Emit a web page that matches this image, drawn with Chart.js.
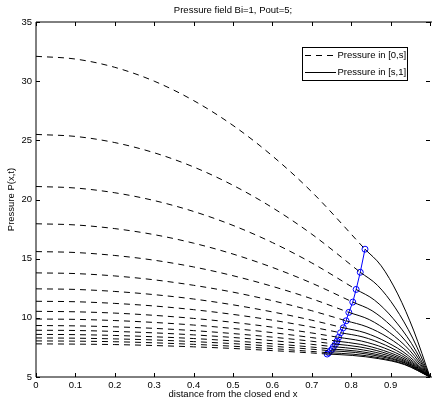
<!DOCTYPE html>
<html>
<head>
<meta charset="utf-8">
<title>Pressure field</title>
<script src="https://cdn.jsdelivr.net/npm/chart.js"></script>
<style>
  html, body { margin: 0; padding: 0; background: #fff; }
  canvas { display: block; }
</style>
</head>
<body>
<canvas id="c" width="435" height="410"></canvas>
<script>
// Axis ticks
const xTicks = [0, 0.1, 0.2, 0.3, 0.4, 0.5, 0.6, 0.7, 0.8, 0.9, 1];
const xTickLabels = ['0', '0.1', '0.2', '0.3', '0.4', '0.5', '0.6', '0.7', '0.8', '0.9', ''];
const yTicks = [5, 10, 15, 20, 25, 30, 35];
const yTickLabels = ['5', '10', '15', '20', '25', '30', '35'];

// Pressure in [0,s]: sampled at these x positions, then closed at the front s
const dashX = [0, 0.1, 0.2, 0.3, 0.4, 0.5, 0.6, 0.7];
const dashP = [
  [32.1, 31.87, 31.17, 30.00, 28.36, 26.26, 23.68, 20.64],
  [25.5, 25.33, 24.81, 23.95, 22.75, 21.20, 19.31, 17.07],
  [21.1, 20.97, 20.57, 19.91, 18.99, 17.81, 16.36, 14.64],
  [17.95, 17.85, 17.54, 17.03, 16.31, 15.39, 14.26, 12.93],
  [15.6, 15.52, 15.27, 14.87, 14.30, 13.56, 12.66, 11.61],
  [13.8, 13.74, 13.54, 13.21, 12.75, 12.17, 11.45, 10.60],
  [12.45, 12.40, 12.23, 11.96, 11.59, 11.10, 10.50, 9.80],
  [11.4, 11.36, 11.22, 11.00, 10.69, 10.29, 9.80, 9.22],
  [10.55, 10.51, 10.40, 10.21, 9.95, 9.62, 9.21, 8.72],
  [9.9, 9.87, 9.77, 9.61, 9.39, 9.10, 8.75, 8.33],
  [9.35, 9.32, 9.24, 9.11, 8.92, 8.67, 8.37, 8.02],
  [8.95, 8.93, 8.85, 8.73, 8.56, 8.34, 8.07, 7.76],
  [8.6, 8.58, 8.51, 8.40, 8.25, 8.05, 7.81, 7.53],
  [8.3, 8.28, 8.22, 8.13, 7.99, 7.82, 7.60, 7.35],
  [8.05, 8.03, 7.98, 7.89, 7.76, 7.60, 7.40, 7.16],
  [7.8, 7.78, 7.74, 7.66, 7.55, 7.41, 7.23, 7.03]
];

// Front position s and the pressure there, one per time level
const frontX = [0.835, 0.823, 0.8125, 0.804, 0.794, 0.787, 0.780, 0.773,
                0.768, 0.764, 0.760, 0.755, 0.752, 0.7475, 0.743, 0.739];
const frontP = [15.8, 13.85, 12.4, 11.33, 10.46, 9.75, 9.16, 8.74,
                8.35, 8.03, 7.78, 7.56, 7.36, 7.22, 7.05, 6.94];

// Pressure in [s,1]: points after the front, ending at Pout at x = 1
const solidX = [
  [0.876, 0.918, 0.959, 1],
  [0.867, 0.912, 0.956, 1],
  [0.859, 0.906, 0.953, 1],
  [0.853, 0.902, 0.951, 1],
  [0.846, 0.897, 0.949, 1],
  [0.840, 0.894, 0.947, 1],
  [0.835, 0.890, 0.945, 1],
  [0.830, 0.887, 0.943, 1],
  [0.826, 0.884, 0.942, 1],
  [0.823, 0.882, 0.941, 1],
  [0.820, 0.880, 0.940, 1],
  [0.816, 0.878, 0.939, 1],
  [0.814, 0.876, 0.938, 1],
  [0.811, 0.874, 0.937, 1],
  [0.807, 0.872, 0.936, 1],
  [0.804, 0.870, 0.935, 1]
];
const solidP = [
  [14.40, 12.02, 8.89, 5],
  [12.74, 10.84, 8.29, 5],
  [11.50, 9.96, 7.84, 5],
  [10.60, 9.30, 7.51, 5],
  [9.85, 8.77, 7.23, 5],
  [9.24, 8.33, 7.00, 5],
  [8.74, 7.95, 6.80, 5],
  [8.38, 7.69, 6.66, 5],
  [8.04, 7.45, 6.53, 5],
  [7.76, 7.24, 6.42, 5],
  [7.55, 7.09, 6.33, 5],
  [7.36, 6.95, 6.26, 5],
  [7.19, 6.82, 6.19, 5],
  [7.07, 6.73, 6.15, 5],
  [6.92, 6.62, 6.08, 5],
  [6.82, 6.55, 6.05, 5]
];

const legendLabels = ['Pressure in [0,s]', 'Pressure in [s,1]'];

const FONT = 'Liberation Sans, Arial, Helvetica, sans-serif';
const DASH = [6, 5];

const datasets = [];
for (let i = 0; i < frontX.length; i++) {
  const left = dashX.map((x, j) => ({ x, y: dashP[i][j] }));
  left.push({ x: frontX[i], y: frontP[i] });
  datasets.push({
    data: left,
    borderColor: '#000',
    borderWidth: 1,
    borderDash: DASH,
    pointRadius: 0,
    cubicInterpolationMode: 'monotone',
    fill: false
  });
  const right = [{ x: frontX[i], y: frontP[i] }]
    .concat(solidX[i].map((x, j) => ({ x, y: solidP[i][j] })));
  datasets.push({
    data: right,
    borderColor: '#000',
    borderWidth: 1,
    pointRadius: 0,
    cubicInterpolationMode: 'monotone',
    fill: false
  });
}
// Front trajectory with circle markers
datasets.push({
  data: frontX.map((x, i) => ({ x, y: frontP[i] })),
  borderColor: '#0000ff',
  borderWidth: 1,
  pointRadius: 3,
  pointStyle: 'circle',
  pointBorderColor: '#0000ff',
  pointBackgroundColor: 'rgba(0,0,0,0)',
  pointBorderWidth: 1,
  tension: 0,
  fill: false
});

// Axes box, inward tick marks and the boxed legend
const frame = {
  id: 'frame',
  afterDatasetsDraw(chart) {
    const ctx = chart.ctx;
    const a = chart.chartArea;
    const xs = chart.scales.x, ys = chart.scales.y;
    const L = 4;
    ctx.save();
    ctx.strokeStyle = '#000';
    ctx.lineWidth = 1;
    ctx.setLineDash([]);
    ctx.beginPath();
    ctx.moveTo(a.left, a.bottom); ctx.lineTo(a.right + 2, a.bottom);
    ctx.moveTo(a.left, a.top); ctx.lineTo(a.right + 2, a.top);
    ctx.moveTo(a.left, a.top); ctx.lineTo(a.left, a.bottom);
    xTicks.forEach(v => {
      const px = Math.round(xs.getPixelForValue(v)) + 0.5;
      ctx.moveTo(px, a.bottom); ctx.lineTo(px, a.bottom - L);
      ctx.moveTo(px, a.top); ctx.lineTo(px, a.top + L);
    });
    yTicks.forEach(v => {
      const py = Math.round(ys.getPixelForValue(v)) + 0.5;
      ctx.moveTo(a.left, py); ctx.lineTo(a.left + L, py);
      ctx.moveTo(a.right, py); ctx.lineTo(a.right - L, py);
    });
    ctx.stroke();

    // legend
    const bx = 302.5, by = 47.5, bw = 105, bh = 33;
    ctx.fillStyle = '#fff';
    ctx.fillRect(bx, by, bw, bh);
    ctx.strokeRect(bx, by, bw, bh);
    ctx.beginPath();
    ctx.setLineDash(DASH);
    ctx.moveTo(305, 55.5); ctx.lineTo(336, 55.5);
    ctx.stroke();
    ctx.setLineDash([]);
    ctx.beginPath();
    ctx.moveTo(305, 72.5); ctx.lineTo(336, 72.5);
    ctx.stroke();
    ctx.fillStyle = '#000';
    ctx.font = '9.5px ' + FONT;
    ctx.textBaseline = 'middle';
    ctx.textAlign = 'left';
    ctx.fillText(legendLabels[0], 337.5, 55.5);
    ctx.fillText(legendLabels[1], 337.5, 72.5);
    ctx.restore();
  }
};

new Chart(document.getElementById('c'), {
  type: 'line',
  data: { datasets },
  plugins: [frame],
  options: {
    responsive: false,
    devicePixelRatio: 1,
    animation: false,
    events: [],
    layout: { padding: 0 },
    plugins: {
      legend: { display: false },
      tooltip: { enabled: false },
      title: {
        display: true,
        text: 'Pressure field Bi=1, Pout=5;',
        fullSize: false,
        color: '#000',
        font: { family: FONT, size: 9.5, weight: 'normal' },
        padding: { top: 5, bottom: 5.6 }
      }
    },
    scales: {
      x: {
        type: 'linear',
        min: 0,
        max: 1,
        afterBuildTicks: s => { s.ticks = xTicks.map(v => ({ value: v })); },
        afterFit: s => { s.height = 33; },
        grid: { display: false, drawTicks: false },
        border: { display: false },
        ticks: {
          autoSkip: false,
          maxRotation: 0,
          padding: 3,
          color: '#000',
          font: { family: FONT, size: 9.5 },
          callback: (v, i) => xTickLabels[i]
        },
        title: {
          display: true,
          text: 'distance from the closed end x',
          color: '#000',
          font: { family: FONT, size: 9.5 },
          padding: { top: 0, bottom: 10 }
        }
      },
      y: {
        type: 'linear',
        min: 5,
        max: 35,
        afterBuildTicks: s => { s.ticks = yTicks.map(v => ({ value: v })); },
        afterFit: s => { s.width = 36; },
        grid: { display: false, drawTicks: false },
        border: { display: false },
        ticks: {
          autoSkip: false,
          padding: 4,
          color: '#000',
          font: { family: FONT, size: 9.5 },
          callback: (v, i) => yTickLabels[i]
        },
        title: {
          display: true,
          text: 'Pressure P(x,t)',
          color: '#000',
          font: { family: FONT, size: 9.5 },
          padding: { top: 6, bottom: 0 }
        }
      }
    }
  }
});
</script>
</body>
</html>
